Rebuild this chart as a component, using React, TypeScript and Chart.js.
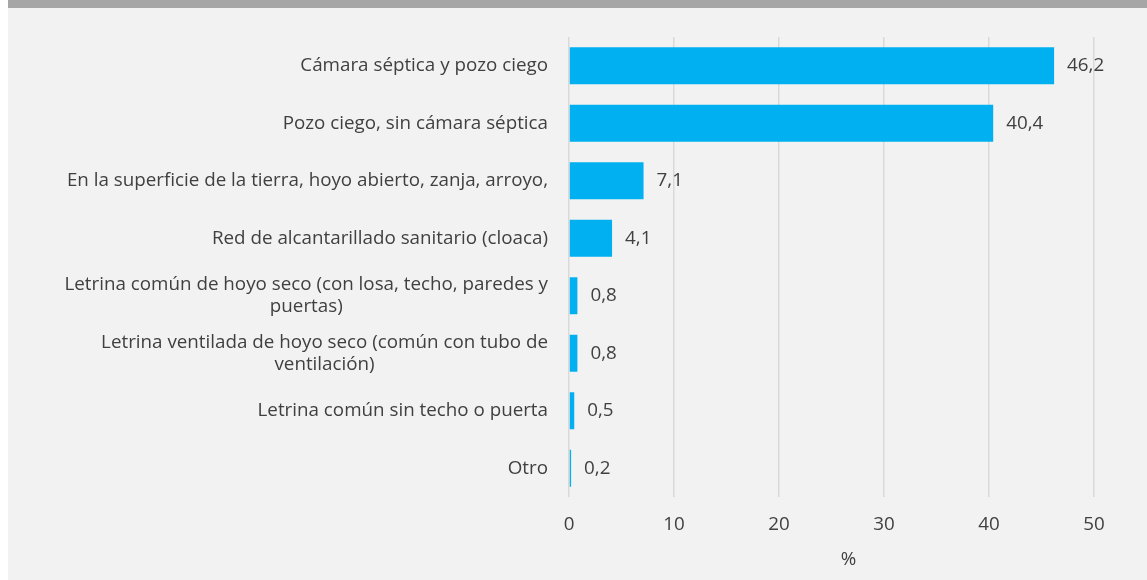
import React, { useEffect, useRef } from "react";
import { Chart, registerables } from "chart.js";

Chart.register(...registerables);

const categories: string[][] = [
  ["Cámara séptica y pozo ciego"],
  ["Pozo ciego, sin cámara séptica"],
  ["En la superficie de la tierra, hoyo abierto, zanja, arroyo,"],
  ["Red de alcantarillado sanitario (cloaca)"],
  ["Letrina común de hoyo seco (con losa, techo, paredes y", "puertas)"],
  ["Letrina ventilada de hoyo seco (común con tubo de", "ventilación)"],
  ["Letrina común sin techo o puerta"],
  ["Otro"],
];
const values: number[] = [46.2, 40.4, 7.1, 4.1, 0.8, 0.8, 0.5, 0.2];
const valueLabels: string[] = ["46,2", "40,4", "7,1", "4,1", "0,8", "0,8", "0,5", "0,2"];
const xTicks: number[] = [0, 10, 20, 30, 40, 50];
const axisTitle = "%";

const FONT = "'Open Sans', sans-serif";
const TEXT = "#404040";
const SIZE = 18.8;

const customText = {
  id: "customText",
  afterDatasetsDraw(chart: any) {
    const ctx = chart.ctx;
    const y = chart.scales.y;
    const ca = chart.chartArea;
    ctx.save();
    ctx.font = `${SIZE}px ${FONT}`;
    ctx.fillStyle = TEXT;
    ctx.textBaseline = "middle";
    // category labels
    categories.forEach((lines, i) => {
      const cy = y.getPixelForValue(i);
      const right = ca.left - 21;
      const lh = 22;
      const firstW = ctx.measureText(lines[0]).width;
      lines.forEach((line, j) => {
        const ly = cy + (j - (lines.length - 1) / 2) * lh;
        if (j === 0) {
          ctx.textAlign = "right";
          ctx.fillText(line, right, ly);
        } else {
          ctx.textAlign = "center";
          ctx.fillText(line, right - firstW / 2, ly);
        }
      });
    });
    // value labels
    const meta = chart.getDatasetMeta(0);
    ctx.textAlign = "left";
    meta.data.forEach((bar: any, i: number) => {
      ctx.fillText(valueLabels[i], bar.x + 13, bar.y);
    });
    // axis title
    ctx.textAlign = "center";
    ctx.fillText(axisTitle, (ca.left + ca.right) / 2 + 17, 560);
    ctx.restore();
  },
};

export default function App() {
  const ref = useRef<HTMLCanvasElement | null>(null);
  useEffect(() => {
    if (!ref.current) return;
    const chart = new Chart(ref.current, {
      type: "bar",
      data: {
        labels: categories.map((c) => c.join(" ")),
        datasets: [
          {
            data: values,
            backgroundColor: "#00b0f0",
            borderWidth: 0,
            barPercentage: 0.643,
            categoryPercentage: 1,
          },
        ],
      },
      options: {
        indexAxis: "y",
        animation: false,
        responsive: false,
        maintainAspectRatio: false,
        layout: { padding: { top: 37, right: 53, left: 0, bottom: 0 } },
        plugins: {
          legend: { display: false },
          tooltip: { enabled: false },
          title: { display: false },
        },
        scales: {
          x: {
            min: 0,
            max: 50,
            afterBuildTicks: (s: any) => {
              s.ticks = xTicks.map((v) => ({ value: v }));
            },
            afterFit: (s: any) => {
              s.height = 83;
            },
            grid: { color: "#d9d9d9", lineWidth: 1.5, drawTicks: false },
            border: { display: false },
            ticks: {
              color: TEXT,
              font: { family: FONT, size: SIZE },
              padding: 16,
            },
          },
          y: {
            afterFit: (s: any) => {
              s.width = 561;
            },
            grid: { display: false },
            border: { display: false },
            ticks: { display: false },
          },
        },
      },
      plugins: [customText],
    });
    return () => chart.destroy();
  }, []);
  return (
    <div
      style={{
        position: "absolute",
        left: 8,
        top: 0,
        width: 1139,
        height: 580,
        background: "#f2f2f2",
      }}
    >
      <canvas ref={ref} width={1139} height={580} style={{ display: "block" }} />
      <div
        style={{
          position: "absolute",
          left: 0,
          top: 0,
          width: 1139,
          height: 8,
          background: "#a6a6a6",
        }}
      />
    </div>
  );
}
